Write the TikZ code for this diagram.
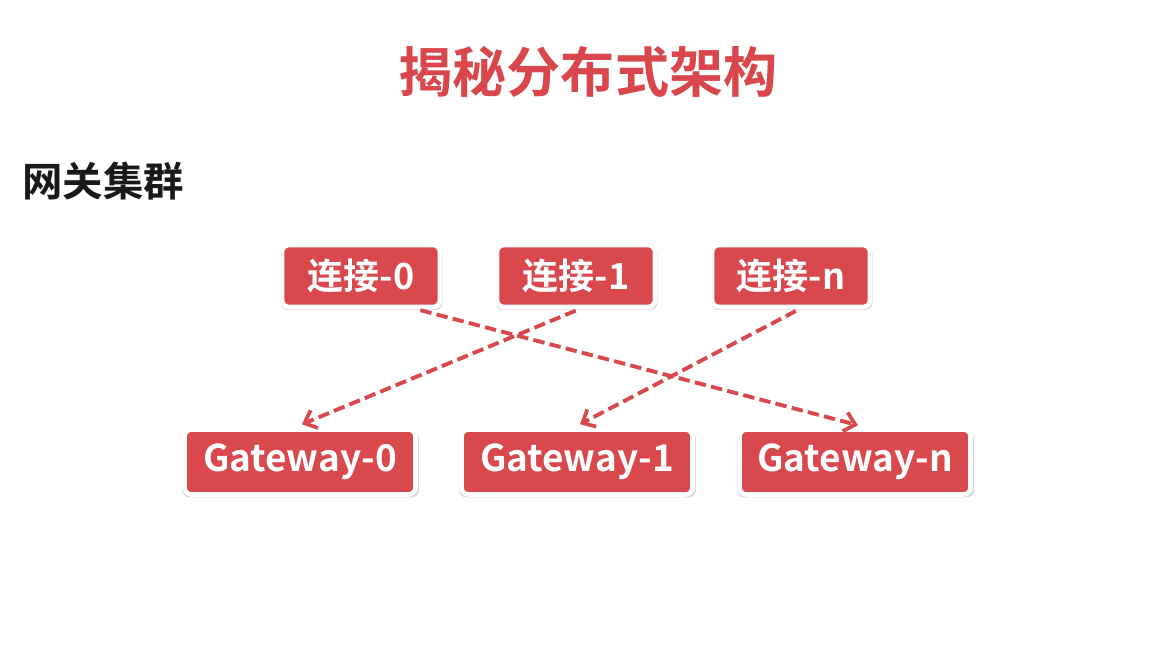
\documentclass[tikz,border=0pt]{standalone}
\usepackage{fontspec}
\setmainfont{Noto Sans CJK SC}[BoldFont={* Bold}]
\newfontfamily\cjkbold{Noto Sans CJK SC Bold}
\usepackage{xcolor}
\usepackage{tikz}
\usetikzlibrary{positioning, arrows.meta, shadows}
\definecolor{slideRed}{HTML}{D8484D}
\definecolor{titleRed}{HTML}{D9464B}
\tikzset{
    redbox/.style={rectangle, rounded corners=4pt, draw=white, line width=2.6pt, fill=slideRed, text=white, font=\cjkbold, drop shadow={shadow xshift=0.3pt, shadow yshift=-1.2pt, shadow scale=1.025, opacity=0.22, fill=black!70}, inner sep=0pt, align=center},
    connbox/.style={redbox, minimum width=3.16cm, minimum height=1.24cm, font=\cjkbold\fontsize{20.5}{20.5}\selectfont},
    gwbox/.style={redbox, minimum width=4.62cm, minimum height=1.3cm, font=\cjkbold\fontsize{21}{21}\selectfont},
    dasharrow/.style={-{Straight Barb[length=6pt, width=11pt, line width=2.1pt]}, dash pattern=on 6.5pt off 3pt, line width=2.2pt, draw=slideRed, shorten <=2pt},
    heading/.style={font=\cjkbold\fontsize{30.8}{30.8}\selectfont, text=titleRed},
    section/.style={font=\cjkbold\fontsize{23}{23}\selectfont, text=black!90, anchor=west}
}

\begin{document}
\begin{tikzpicture}[x=0.02cm, y=-0.02cm]
    \useasboundingbox[fill=white] (0,0) rectangle (1165,666);

    \node[heading] (title) at (588,72) {揭秘分布式架构};
    \node[section] (group) at (16,181) {网关集群};

    % connections
    \node[connbox] (conn0) at (361,276) {连接-0};
    \node[connbox] (conn1) at (576,276) {连接-1};
    \node[connbox] (connN) at (791,276) {连接-n};

    % gateways
    \node[gwbox] (gw0) at (300,462) {Gateway-0};
    \node[gwbox] (gw1) at (577,462) {Gateway-1};
    \node[gwbox] (gwN) at (855,462) {Gateway-n};

    \draw[dasharrow] ([xshift=1.12cm]conn0.south) -- ([xshift=0.06cm,yshift=0.04cm]gwN.north);
    \draw[dasharrow] ([xshift=0.06cm]conn1.south) -- ([xshift=0.04cm,yshift=0.06cm]gw0.north);
    \draw[dasharrow] ([xshift=0.16cm]connN.south) -- ([xshift=0.06cm,yshift=0.06cm]gw1.north);
\end{tikzpicture}
\end{document}
